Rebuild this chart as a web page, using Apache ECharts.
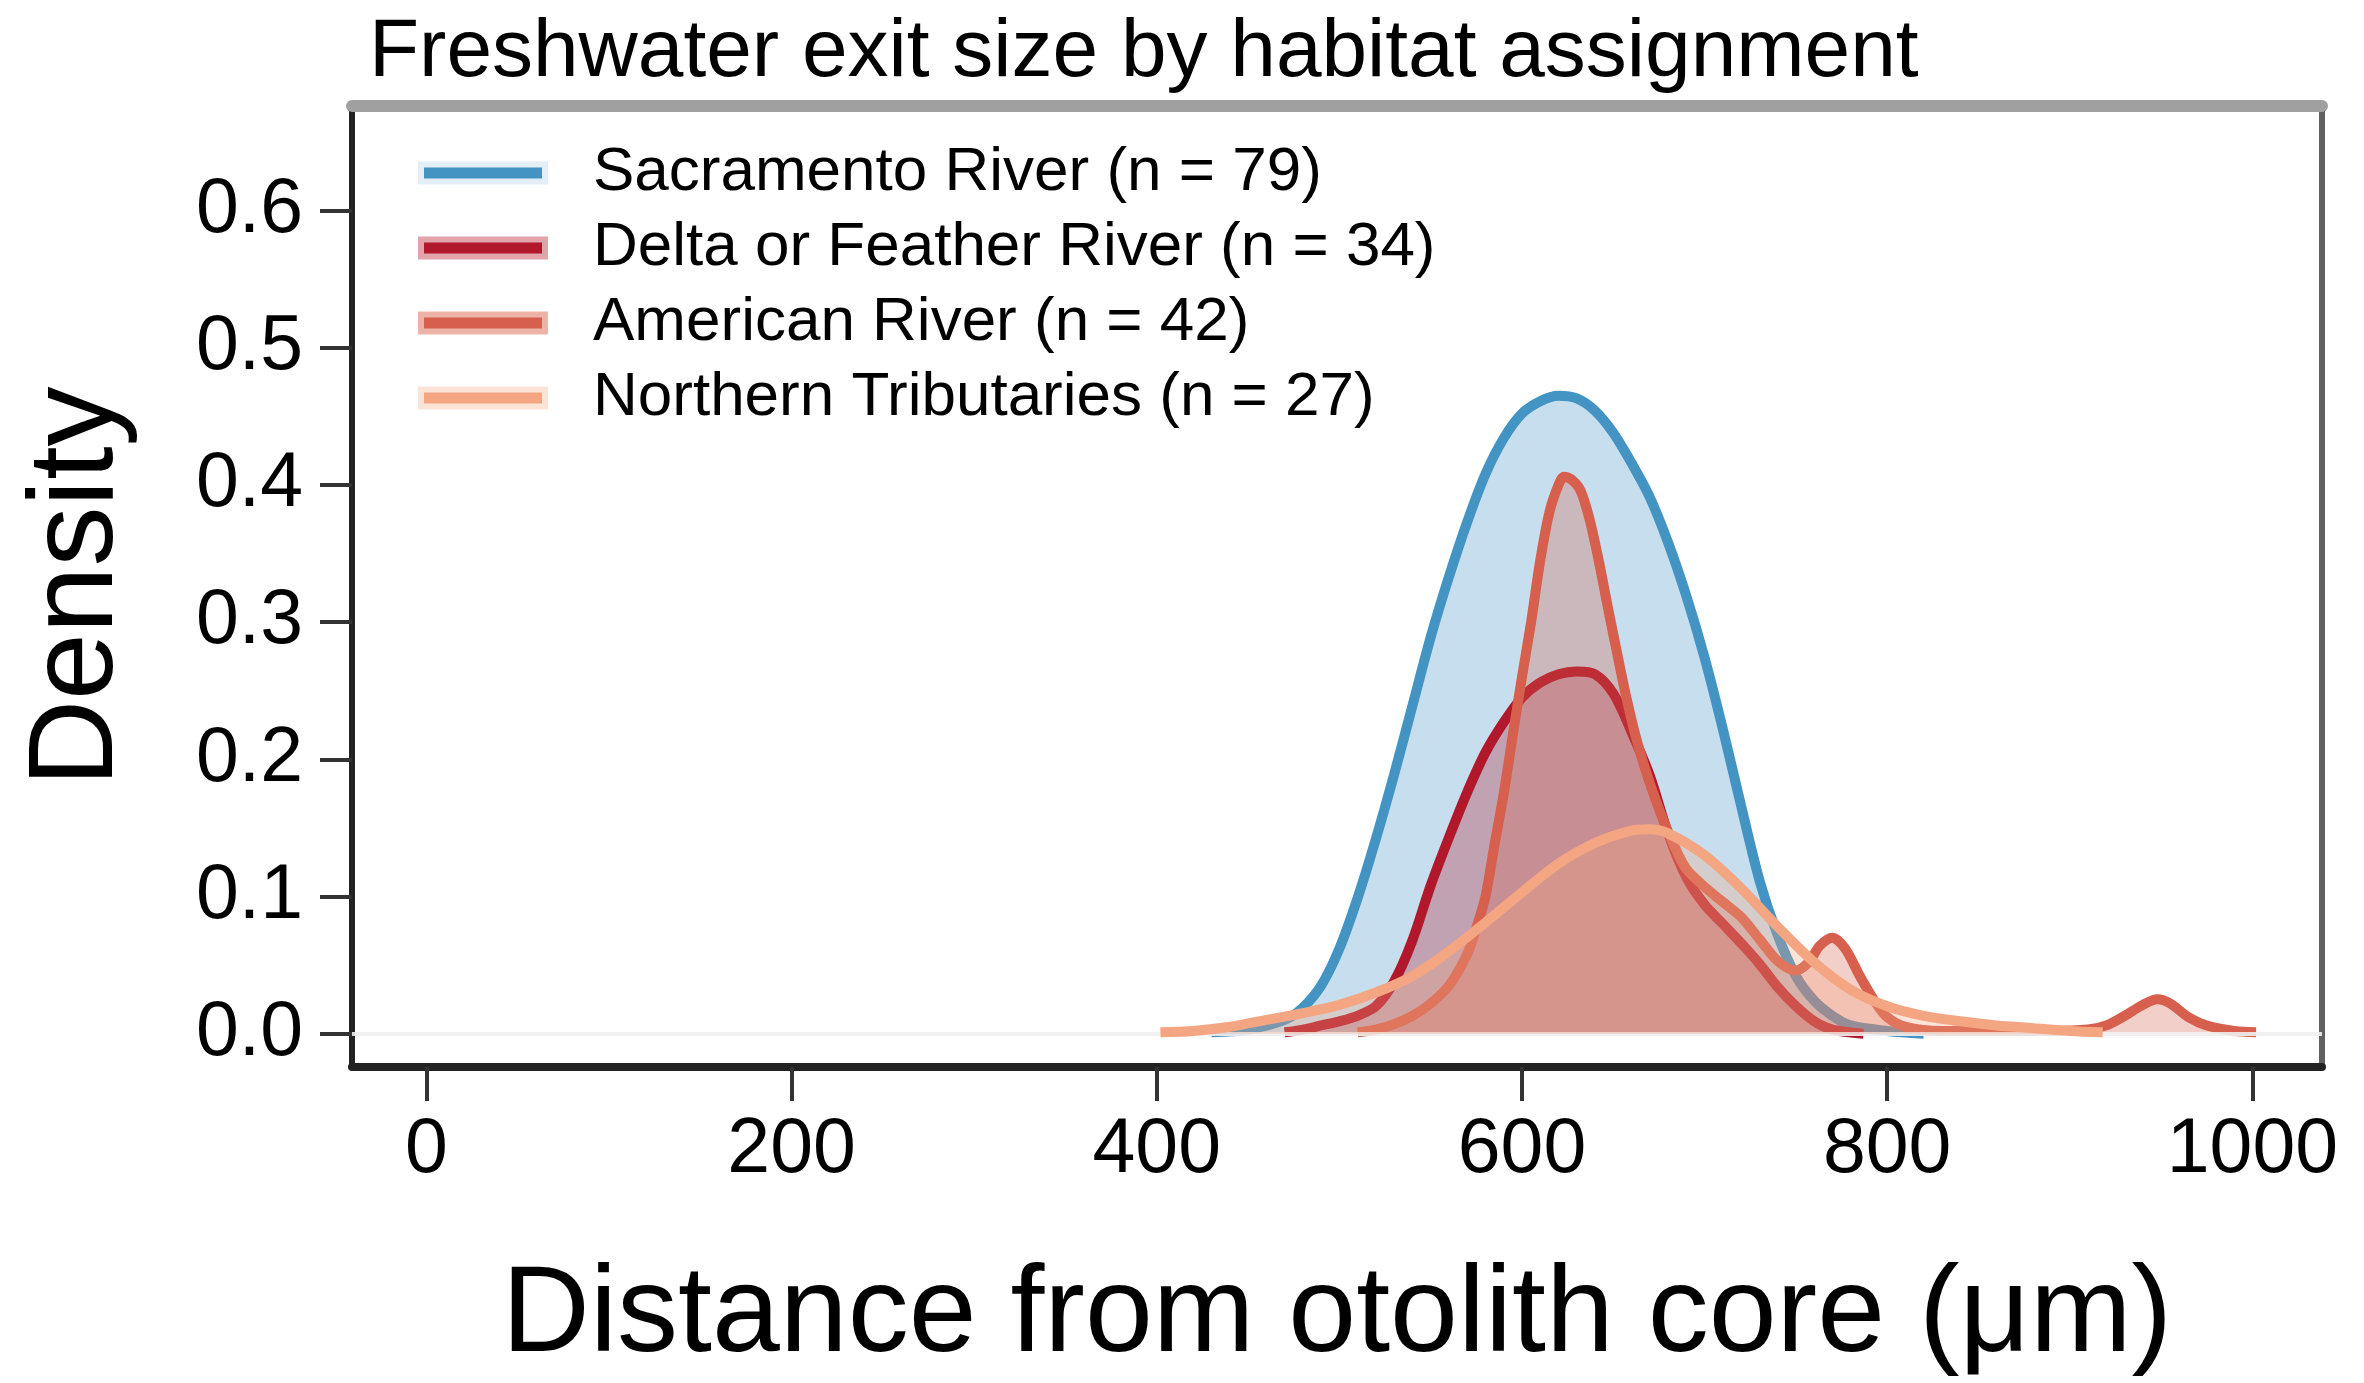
<!DOCTYPE html>
<html>
<head>
<meta charset="utf-8">
<script src="https://cdn.jsdelivr.net/npm/echarts@6/dist/echarts.min.js"></script>
<style>
html,body{margin:0;padding:0;background:#fff;}
#chart{width:2364px;height:1383px;}
</style>
</head>
<body>
<div id="chart"></div>
<script>
// ---- data (x in µm, y = density) ----
const seriesNames = ['Sacramento River (n = 79)', 'Delta or Feather River (n = 34)', 'American River (n = 42)', 'Northern Tributaries (n = 27)'];
const lineColors = ['#4393c3', '#b2182b', '#d6604d', '#f4a582'];
const fillColors = ['rgba(67,147,195,0.3)', 'rgba(178,24,43,0.3)', 'rgba(214,96,77,0.3)', 'rgba(244,165,130,0.3)'];
const haloColors = ['#e3eef6', '#e3a3ab', '#eeb3a8', '#fbe3d8'];

const sacramentoX = [430, 450, 470, 480, 490, 500, 510, 520, 530, 540, 550, 560, 570, 580, 590, 600, 610, 620, 630, 640, 650, 660, 670, 680, 690, 700, 710, 720, 730, 740, 750, 760, 770, 780, 800, 820];
const sacramentoY = [0.001, 0.003, 0.010, 0.019, 0.035, 0.062, 0.099, 0.142, 0.189, 0.239, 0.289, 0.333, 0.373, 0.408, 0.434, 0.452, 0.461, 0.465, 0.463, 0.454, 0.438, 0.416, 0.391, 0.358, 0.319, 0.274, 0.222, 0.166, 0.112, 0.072, 0.042, 0.024, 0.013, 0.006, 0.002, 0.000];

const deltaX = [470, 480, 490, 500, 510, 520, 530, 540, 550, 560, 570, 580, 590, 600, 610, 620, 630, 640, 650, 660, 670, 680, 690, 700, 710, 720, 730, 740, 750, 760, 770, 787];
const deltaY = [0.001, 0.003, 0.006, 0.009, 0.013, 0.020, 0.038, 0.068, 0.108, 0.143, 0.176, 0.205, 0.227, 0.245, 0.256, 0.262, 0.264, 0.262, 0.248, 0.220, 0.188, 0.146, 0.114, 0.094, 0.080, 0.066, 0.051, 0.034, 0.020, 0.009, 0.003, 0.000];

const americanX = [510, 520, 530, 540, 550, 560, 570, 575, 580, 585, 590, 595, 600, 605, 610, 615, 620, 623, 627, 632, 637, 642, 647, 652, 657, 662, 667, 672, 677, 683, 690, 700, 710, 720, 730, 740, 750, 757, 763, 770, 777, 785, 793, 800, 810, 830, 850, 870, 890, 910, 920, 930, 940, 948, 955, 965, 975, 990, 1002];
const americanY = [0.001, 0.003, 0.007, 0.013, 0.022, 0.035, 0.058, 0.077, 0.100, 0.138, 0.175, 0.218, 0.260, 0.300, 0.345, 0.380, 0.400, 0.406, 0.404, 0.396, 0.375, 0.345, 0.311, 0.278, 0.246, 0.218, 0.195, 0.175, 0.157, 0.138, 0.120, 0.107, 0.096, 0.085, 0.069, 0.053, 0.046, 0.052, 0.064, 0.070, 0.062, 0.042, 0.024, 0.012, 0.005, 0.002, 0.002, 0.002, 0.002, 0.003, 0.006, 0.013, 0.021, 0.025, 0.022, 0.012, 0.006, 0.002, 0.001];

const northernX = [402, 420, 440, 460, 480, 500, 520, 540, 560, 580, 600, 620, 640, 660, 670, 680, 700, 720, 740, 760, 780, 800, 820, 840, 860, 880, 900, 918];
const northernY = [0.001, 0.002, 0.005, 0.010, 0.015, 0.021, 0.030, 0.042, 0.060, 0.081, 0.103, 0.124, 0.139, 0.148, 0.149, 0.146, 0.130, 0.106, 0.078, 0.052, 0.032, 0.020, 0.013, 0.009, 0.006, 0.004, 0.002, 0.001];

const xTicks = [0, 200, 400, 600, 800, 1000];
const yTicks = [0, 0.1, 0.2, 0.3, 0.4, 0.5, 0.6];

const allX = [sacramentoX, deltaX, americanX, northernX];
const allY = [sacramentoY, deltaY, americanY, northernY];

const FONT = "'Liberation Sans', Arial, Helvetica, sans-serif";
const X_MIN = -40.7, X_MAX = 1038.1, Y_MIN = -0.0243, Y_MAX = 0.6762;

const chart = echarts.init(document.getElementById('chart'), null, {renderer: 'canvas'});

const series = seriesNames.map((name, i) => ({
  name: name,
  type: 'line',
  data: allX[i].map((x, k) => [x, allY[i][k]]),
  showSymbol: false,
  symbol: 'none',
  smooth: 0.3,
  lineStyle: {color: lineColors[i], width: 10},
  itemStyle: {color: lineColors[i]},
  areaStyle: {color: fillColors[i], opacity: 1, origin: 0},
  z: 2 + i,
  markLine: i === 3 ? {
    silent: true,
    symbol: 'none',
    label: {show: false},
    lineStyle: {color: 'rgba(240,240,240,0.9)', width: 4, type: 'solid'},
    data: [{yAxis: 0}]
  } : undefined
}));

const option = {
  backgroundColor: '#ffffff',
  animation: false,
  title: {
    text: 'Freshwater exit size by habitat assignment',
    left: 369,
    top: 12,
    padding: 0,
    textStyle: {fontFamily: FONT, fontSize: 82, fontWeight: 'normal', color: '#000'}
  },
  legend: {
    orient: 'vertical',
    left: 418,
    top: 142,
    padding: 0,
    itemGap: 13,
    itemWidth: 124,
    itemHeight: 17,
    icon: 'rect',
    selectedMode: false,
    textStyle: {fontFamily: FONT, fontSize: 62, color: '#000', lineHeight: 62, padding: [0, 0, 0, 43]},
    data: seriesNames.map((n, i) => ({
      name: n,
      itemStyle: {color: lineColors[i], borderColor: haloColors[i], borderWidth: 6}
    }))
  },
  grid: {left: 352, right: 42, top: 106, bottom: 312, containLabel: false},
  xAxis: [{
    type: 'value',
    min: X_MIN, max: X_MAX,
    position: 'bottom',
    name: 'Distance from otolith core (\u03bcm)',
    nameLocation: 'middle',
    nameGap: 189,
    nameTextStyle: {fontFamily: FONT, fontSize: 122, color: '#000'},
    axisLine: {show: true, onZero: false, lineStyle: {color: '#222', width: 8}},
    axisTick: {show: true, customValues: xTicks, length: 34, lineStyle: {color: '#333', width: 4}},
    axisLabel: {show: true, customValues: xTicks, margin: 45, fontFamily: FONT, fontSize: 77, color: '#000',
      formatter: v => String(Math.round(v))},
    splitLine: {show: false}
  }, {
    type: 'value',
    min: X_MIN, max: X_MAX,
    position: 'top',
    axisLine: {show: true, onZero: false, lineStyle: {color: '#a0a0a0', width: 12}},
    axisTick: {show: false},
    axisLabel: {show: false},
    splitLine: {show: false}
  }],
  yAxis: [{
    type: 'value',
    min: Y_MIN, max: Y_MAX,
    position: 'left',
    name: 'Density',
    nameLocation: 'middle',
    nameGap: 213,
    nameRotate: 90,
    nameTextStyle: {fontFamily: FONT, fontSize: 120, color: '#000'},
    axisLine: {show: true, onZero: false, lineStyle: {color: '#222', width: 6}},
    axisTick: {show: true, customValues: yTicks, length: 32, lineStyle: {color: '#333', width: 4}},
    axisLabel: {show: true, customValues: yTicks, margin: 49, fontFamily: FONT, fontSize: 77, color: '#000',
      formatter: v => v.toFixed(1)},
    splitLine: {show: false}
  }, {
    type: 'value',
    min: Y_MIN, max: Y_MAX,
    position: 'right',
    axisLine: {show: true, onZero: false, lineStyle: {color: '#606060', width: 6}},
    axisTick: {show: false},
    axisLabel: {show: false},
    splitLine: {show: false}
  }],
  series: series
};

chart.setOption(option);
</script>
</body>
</html>
